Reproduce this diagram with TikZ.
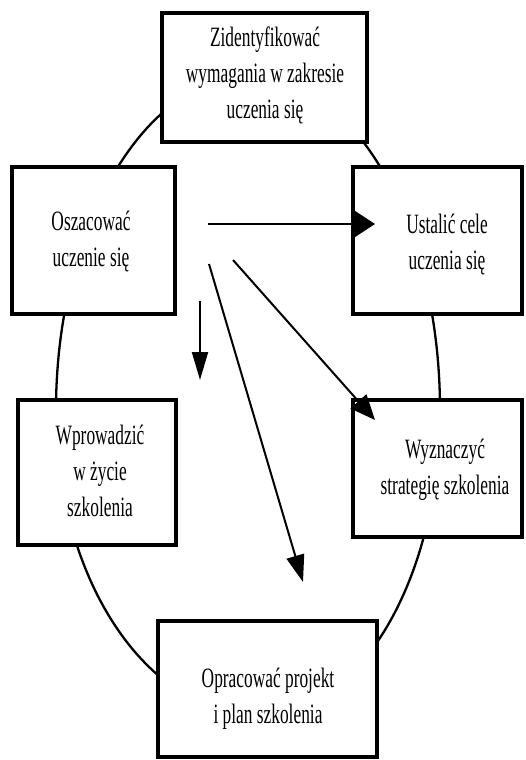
\documentclass[tikz,border=0pt]{standalone}
\usepackage{fontspec}
\setmainfont[FakeStretch=0.62]{Liberation Serif}
\usetikzlibrary{arrows.meta}
\begin{document}
\begin{tikzpicture}[x=1pt,y=-1pt,
  box/.style={draw=black, fill=white, line width=3.5pt, inner sep=0pt, outer sep=0pt},
  label/.style={align=center, font=\fontsize{28}{36}\selectfont, inner sep=0pt},
  cycleline/.style={line width=2.3pt, black},
  flow/.style={line width=2pt, black}]
\useasboundingbox (0,0) rectangle (526,760);

% the training cycle behind the boxes (an egg-like oval)
\coordinate (ctop)    at (250,76);
\coordinate (cright)  at (440,410);
\coordinate (cbottom) at (260,716);
\coordinate (cleft)   at (56,410);
\draw[cycleline]
  (ctop) .. controls (355,76) and (440,226) .. (cright)
         .. controls (440,579) and (359,716) .. (cbottom)
         .. controls (147,716) and (56,579) .. (cleft)
         .. controls (56,226) and (145,76) .. (ctop) -- cycle;

% stages of the cycle
\node[box, minimum width=205pt, minimum height=129pt] (ident) at (264.5,77.5) {};
\node[box, minimum width=163pt, minimum height=147pt] (osz)   at (93.5,240.5) {};
\node[box, minimum width=169pt, minimum height=147pt] (ustal) at (437.5,240.5) {};
\node[box, minimum width=169pt, minimum height=137pt] (wyzn)  at (437.5,468.5) {};
\node[box, minimum width=158pt, minimum height=145pt] (wprow) at (97,472.5) {};
\node[box, minimum width=219pt, minimum height=136pt] (oprac) at (267.5,689) {};

\node[label] (tident) at (265,75)  {Zidentyfikować\\wymagania w zakresie\\uczenia się};
\node[label] (tosz)   at (91,242)  {Oszacować\\uczenie się};
\node[label] (tustal) at (447,245) {Ustalić cele\\uczenia się};
\node[label] (twyzn)  at (445,470) {Wyznaczyć\\strategię szkolenia};
\node[label] (twprow) at (100,471) {Wprowadzić\\w życie\\szkolenia};
\node[label] (toprac) at (268,699) {Opracować projekt\\i plan szkolenia};

% arrows leaving the assessment stage
\coordinate (s1) at (208,224);
\coordinate (e1) at (375,224);
\coordinate (s2) at (200,301);
\coordinate (e2) at (200,380);
\coordinate (s3) at (233,260);
\coordinate (e3) at (375,420);
\coordinate (s4) at (209,264);
\coordinate (e4) at (303,582);

\draw[flow, -{Triangle[length=21pt,width=27pt]}] (s1) -- (e1);
\draw[flow, -{Triangle[length=28pt,width=16pt]}] (s2) -- (e2);
\draw[flow, -{Triangle[length=25pt,width=21pt]}] (s3) -- (e3);
\draw[flow, -{Triangle[length=27pt,width=18pt]}] (s4) -- (e4);
\end{tikzpicture}
\end{document}
